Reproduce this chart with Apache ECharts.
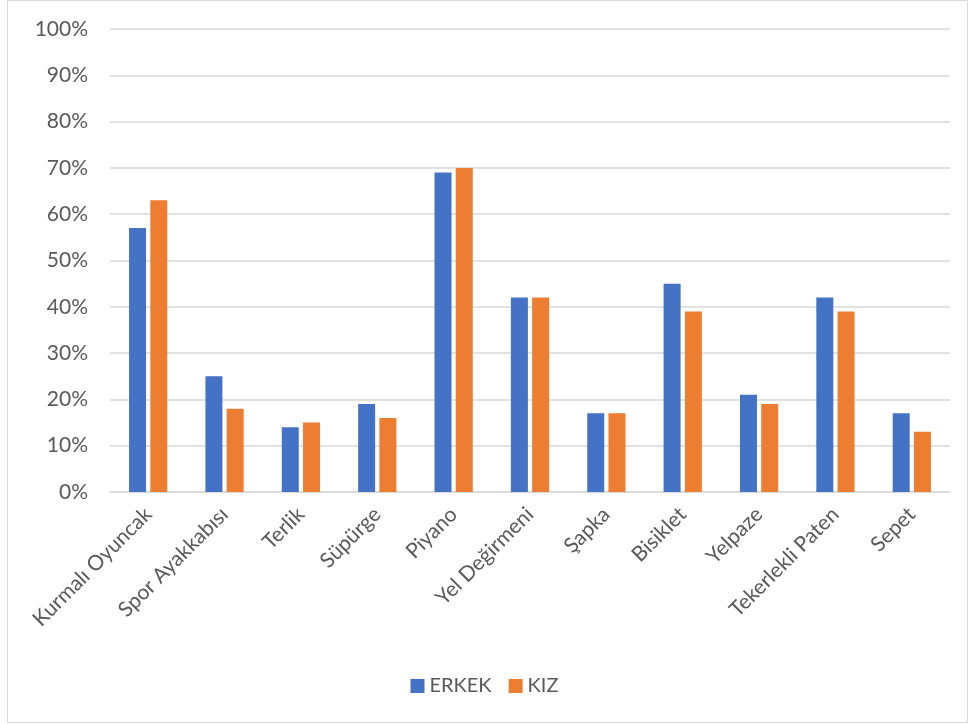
<!DOCTYPE html>
<html>
<head>
<meta charset="utf-8">
<script src="https://cdn.jsdelivr.net/npm/echarts@6/dist/echarts.min.js"></script>
<style>
  html, body { margin: 0; padding: 0; background: #fff; }
  #chart-container { width: 969px; height: 724px; }
</style>
</head>
<body>
<div id="chart-container"></div>
<script>
// Chart data
const categories = ['Kurmalı Oyuncak', 'Spor Ayakkabısı', 'Terlik', 'Süpürge', 'Piyano',
  'Yel Değirmeni', 'Şapka', 'Bisiklet', 'Yelpaze', 'Tekerlekli Paten', 'Sepet'];
const erkekValues = [57, 25, 14, 19, 69, 42, 17, 45, 21, 42, 17];
const kizValues = [63, 18, 15, 16, 70, 42, 17, 39, 19, 39, 13];
const yTicks = [0, 10, 20, 30, 40, 50, 60, 70, 80, 90, 100];

const chartContainer = document.getElementById('chart-container');
const myChart = echarts.init(chartContainer);

const fontFamily = 'Lato, "Open Sans", sans-serif';
const textColor = '#595959';

const option = {
  animation: false,
  textStyle: { fontFamily: fontFamily },
  graphic: [{
    type: 'rect',
    shape: { x: 7.5, y: 0.5, width: 960, height: 722 },
    style: { fill: 'none', stroke: '#d9d9d9', lineWidth: 1 },
    silent: true
  }],
  legend: {
    data: ['ERKEK', 'KIZ'],
    bottom: 23,
    left: 'center',
    itemWidth: 14,
    itemHeight: 14,
    itemGap: 17,
    icon: 'rect',
    textStyle: { color: textColor, fontSize: 20, fontFamily: fontFamily }
  },
  grid: {
    left: 110,
    right: 19,
    top: 29,
    bottom: 232
  },
  xAxis: {
    type: 'category',
    data: categories,
    axisLine: { lineStyle: { color: '#d9d9d9', width: 1.5 } },
    axisTick: { show: false },
    axisLabel: {
      color: textColor,
      fontSize: 21,
      rotate: 45,
      interval: 0,
      margin: 19,
      fontFamily: fontFamily
    }
  },
  yAxis: {
    type: 'value',
    min: yTicks[0],
    max: yTicks[yTicks.length - 1],
    interval: yTicks[1] - yTicks[0],
    axisLine: { show: false },
    axisTick: { show: false },
    axisLabel: {
      color: textColor,
      fontSize: 21,
      margin: 22,
      formatter: '{value}%',
      fontFamily: fontFamily
    },
    splitLine: { lineStyle: { color: '#d9d9d9', width: 1.5 } }
  },
  series: [
    {
      name: 'ERKEK',
      type: 'bar',
      data: erkekValues,
      barWidth: 17,
      barGap: '25%',
      itemStyle: { color: '#4472c4' }
    },
    {
      name: 'KIZ',
      type: 'bar',
      data: kizValues,
      barWidth: 17,
      itemStyle: { color: '#ed7d31' }
    }
  ]
};

myChart.setOption(option);
</script>
</body>
</html>
